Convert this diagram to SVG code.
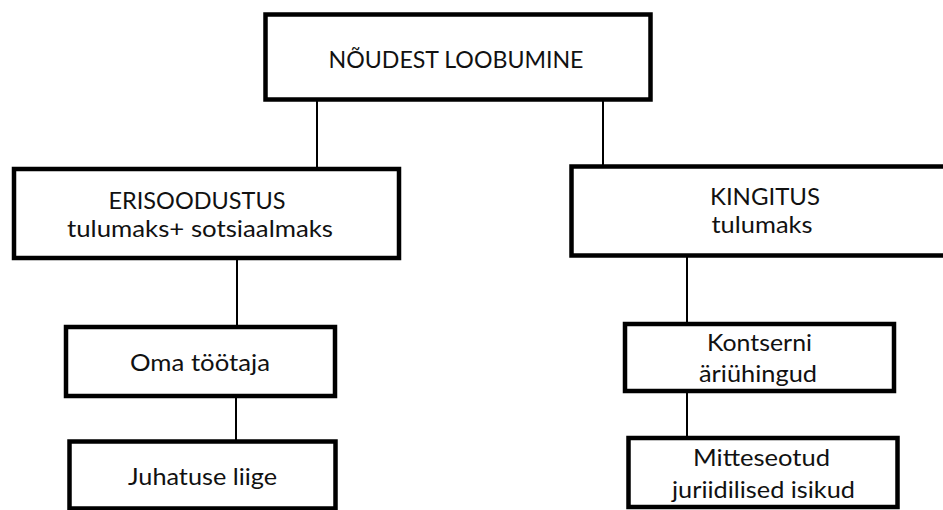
<svg xmlns="http://www.w3.org/2000/svg" width="943" height="510" viewBox="0 0 943 510">
<style>
.box{fill:#fff;stroke:#000;stroke-width:4.5}
.lnk{stroke:#000;stroke-width:2;fill:none}
text{font-family:Lato,"Liberation Sans",sans-serif;font-size:24px;fill:#111;text-anchor:middle}
</style>
<rect width="943" height="510" fill="#fff"/>
<g id="connectors">
<line class="lnk" x1="317" y1="100" x2="317" y2="169"/>
<line class="lnk" x1="603" y1="100" x2="603" y2="166"/>
<line class="lnk" x1="237" y1="258" x2="237" y2="327"/>
<line class="lnk" x1="236" y1="396" x2="236" y2="441"/>
<line class="lnk" x1="687" y1="256" x2="687" y2="324"/>
<line class="lnk" x1="687" y1="391" x2="687" y2="438"/>
</g>
<g id="root">
<rect class="box" x="265.5" y="14.5" width="385" height="85"/>
<text x="456" y="68" textLength="255" lengthAdjust="spacingAndGlyphs">NÕUDEST LOOBUMINE</text>
</g>
<g id="erisoodustus">
<rect class="box" x="14" y="169" width="385" height="89"/>
<text x="197" y="209" textLength="177" lengthAdjust="spacingAndGlyphs">ERISOODUSTUS</text>
<text x="200" y="237" textLength="266" lengthAdjust="spacingAndGlyphs">tulumaks+ sotsiaalmaks</text>
</g>
<g id="kingitus">
<rect class="box" x="571.5" y="166.5" width="380" height="89"/>
<text x="765" y="205" textLength="110" lengthAdjust="spacingAndGlyphs">KINGITUS</text>
<text x="762" y="233" textLength="101" lengthAdjust="spacingAndGlyphs">tulumaks</text>
</g>
<g id="oma">
<rect class="box" x="66" y="327" width="269" height="69"/>
<text x="200" y="371" textLength="140" lengthAdjust="spacingAndGlyphs">Oma töötaja</text>
</g>
<g id="juhatus">
<rect class="box" x="69.5" y="441.5" width="266" height="67"/>
<text x="202.5" y="485" textLength="149" lengthAdjust="spacingAndGlyphs">Juhatuse liige</text>
</g>
<g id="kontsern">
<rect class="box" x="625" y="324" width="269" height="67"/>
<text x="759.5" y="351" textLength="105" lengthAdjust="spacingAndGlyphs">Kontserni</text>
<text x="758" y="382" textLength="118" lengthAdjust="spacingAndGlyphs">äriühingud</text>
</g>
<g id="mitteseotud">
<rect class="box" x="628.5" y="438" width="269" height="69"/>
<text x="761.5" y="466" textLength="137" lengthAdjust="spacingAndGlyphs">Mitteseotud</text>
<text x="763.5" y="498" textLength="183" lengthAdjust="spacingAndGlyphs">juriidilised isikud</text>
</g>
</svg>
